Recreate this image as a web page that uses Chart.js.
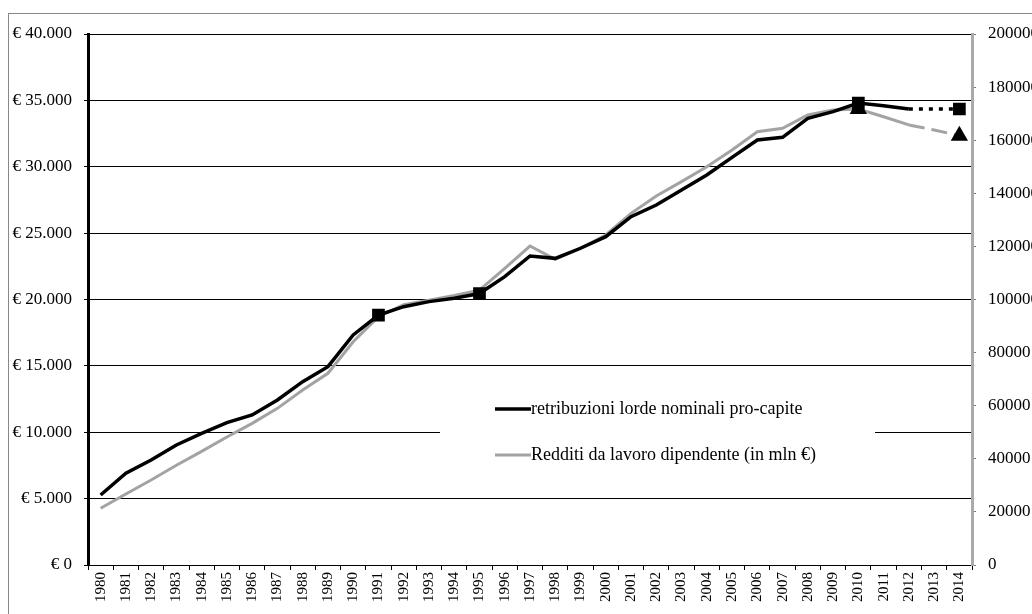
<!DOCTYPE html>
<html lang="it">
<head>
  <meta charset="UTF-8" />
  <title>Retribuzioni e redditi da lavoro dipendente</title>
  <script src="https://cdn.jsdelivr.net/npm/chart.js"></script>
  <style>
    body {
      margin: 0;
      background-color: #fff;
    }

    #wrap {
      width: 1032px;
      height: 614px;
      position: relative;
    }
  </style>
</head>
<body>
  <div id="wrap"><canvas id="chart"></canvas></div>

  <script>
    const years = ["1980", "1981", "1982", "1983", "1984", "1985", "1986", "1987", "1988", "1989",
      "1990", "1991", "1992", "1993", "1994", "1995", "1996", "1997", "1998", "1999",
      "2000", "2001", "2002", "2003", "2004", "2005", "2006", "2007", "2008", "2009",
      "2010", "2011", "2012", "2013", "2014"];

    // retribuzioni lorde nominali pro-capite (€, asse sinistro)
    const retribuzioni = [5270, 6910, 7910, 9040, 9920, 10720, 11300, 12430, 13810, 14940,
      17330, 18830, 19460, 19840, 20090, 20450, 21720, 23280, 23100, 23860,
      24730, 26240, 27120, 28250, 29380, 30710, 32020, 32220, 33650, 34150,
      34800, 34600, 34350, 34350, 34350];

    // redditi da lavoro dipendente (mln €, asse destro)
    const redditi = [21350, 26750, 32000, 37550, 42800, 48200, 53350, 59000, 65900, 72200,
      84100, 93500, 98000, 99750, 101500, 103500, 111750, 120150, 115150, 119300,
      124300, 132450, 139000, 144400, 150000, 156300, 163200, 164500, 169500, 171400,
      171750, 168850, 165750, 163850, 161700];

    const leftTicks = [0, 5000, 10000, 15000, 20000, 25000, 30000, 35000, 40000];
    const rightTicks = [0, 20000, 40000, 60000, 80000, 100000, 120000, 140000, 160000, 180000, 200000];

    // anni con marcatore
    const squareYears = ["1991", "1995", "2010", "2014"];
    const triangleYears = ["2010", "2014"];
    const dashFrom = "2012";

    const serif = "'Liberation Serif', 'DejaVu Serif', serif";
    const dashIdx = years.indexOf(dashFrom);

    function euro(v) {
      if (v === 0) return "€ 0";
      return "€ " + String(v).replace(/\B(?=(\d{3})+(?!\d))/g, ".");
    }

    const legendBox = {
      id: "legendBox",
      beforeDatasetsDraw(chart) {
        const ctx = chart.ctx;
        ctx.save();
        ctx.fillStyle = "#fff";
        ctx.fillRect(440, 378, 435, 110);
        ctx.font = "18px " + serif;
        ctx.textBaseline = "middle";
        ctx.fillStyle = "#000";
        const rows = [409, 455];
        chart.data.datasets.forEach((ds, i) => {
          ctx.strokeStyle = ds.borderColor;
          ctx.lineWidth = ds.borderWidth;
          ctx.beginPath();
          ctx.moveTo(495, rows[i]);
          ctx.lineTo(531, rows[i]);
          ctx.stroke();
          ctx.fillText(ds.label, 531, rows[i]);
        });
        ctx.restore();
      },
      afterDraw(chart) {
        const ctx = chart.ctx;
        ctx.save();
        ctx.strokeStyle = "#888";
        ctx.lineWidth = 1;
        ctx.strokeRect(8.5, 13.5, 1200, 800);
        ctx.restore();
      }
    };

    new Chart(document.getElementById("chart"), {
      type: "line",
      data: {
        labels: years,
        datasets: [
          {
            label: "retribuzioni lorde nominali pro-capite",
            data: retribuzioni,
            yAxisID: "y",
            borderColor: "#000",
            borderWidth: 3.5,
            tension: 0,
            pointStyle: "rect",
            pointRadius: years.map(y => squareYears.includes(y) ? 6.5 : 0),
            pointBackgroundColor: "#000",
            pointBorderColor: "#000",
            segment: {
              borderDash: c => c.p0DataIndex >= dashIdx ? [4, 6] : undefined
            }
          },
          {
            label: "Redditi da lavoro dipendente (in mln €)",
            data: redditi,
            yAxisID: "y2",
            borderColor: "#a3a3a3",
            borderWidth: 3,
            tension: 0,
            pointStyle: "triangle",
            pointRadius: years.map(y => triangleYears.includes(y) ? 7 : 0),
            pointBackgroundColor: "#000",
            pointBorderColor: "#000",
            segment: {
              borderDash: c => c.p0DataIndex >= dashIdx ? [16, 7] : undefined
            }
          }
        ]
      },
      options: {
        responsive: true,
        maintainAspectRatio: false,
        animation: false,
        layout: { padding: { top: 34, left: 0, right: 0, bottom: 0 } },
        plugins: {
          legend: { display: false },
          tooltip: { enabled: false }
        },
        scales: {
          x: {
            offset: true,
            grid: { offset: true, drawOnChartArea: false, tickLength: 5, color: "#000" },
            border: { color: "#000", width: 1 },
            ticks: {
              autoSkip: false,
              minRotation: 90,
              maxRotation: 90,
              padding: 2,
              color: "#000",
              font: { family: serif, size: 15 }
            },
            afterFit: s => { s.height = 49; }
          },
          y: {
            position: "left",
            min: 0,
            max: 40000,
            afterBuildTicks: s => { s.ticks = leftTicks.map(v => ({ value: v })); },
            grid: { color: "#000", lineWidth: 1, tickLength: 4 },
            border: { color: "#000", width: 3 },
            ticks: {
              padding: 12,
              color: "#000",
              font: { family: serif, size: 17 },
              callback: v => euro(v)
            },
            afterFit: s => { s.width = 88; }
          },
          y2: {
            position: "right",
            min: 0,
            max: 200000,
            afterBuildTicks: s => { s.ticks = rightTicks.map(v => ({ value: v })); },
            grid: { drawOnChartArea: false, color: "#777", tickLength: 4 },
            border: { color: "#aaa", width: 3 },
            ticks: {
              padding: 12,
              color: "#000",
              font: { family: serif, size: 17 },
              callback: v => String(v)
            },
            afterFit: s => { s.width = 60; }
          }
        }
      },
      plugins: [legendBox]
    });
  </script>
</body>
</html>
